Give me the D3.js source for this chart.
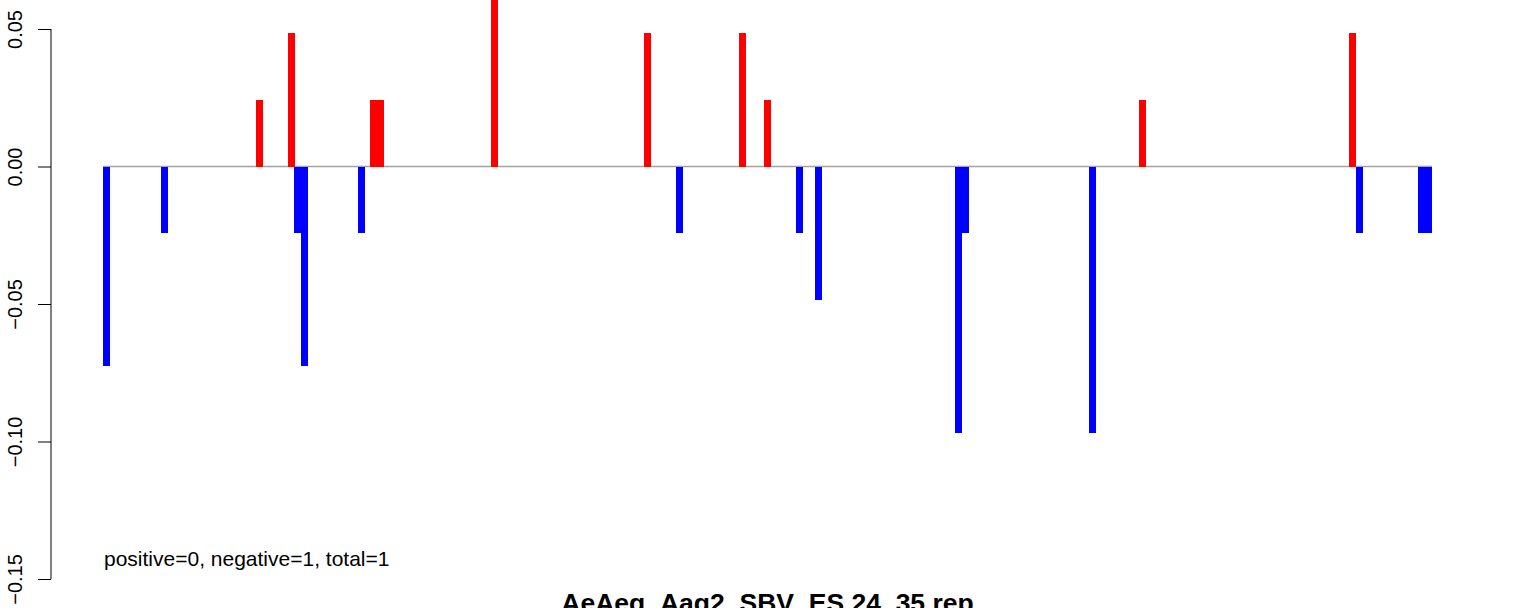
<!DOCTYPE html>
<html>
<head>
<meta charset="utf-8">
<script src="https://cdn.jsdelivr.net/npm/d3@7"></script>
<style>
  html, body { margin: 0; padding: 0; background: #fff; }
  svg { display: block; }
  text { font-family: "Liberation Sans", Arial, Helvetica, sans-serif; }
</style>
</head>
<body>
<script>
// ---- data ----
const positions = [0, 8.3, 21.9, 26.4, 27.3, 28.3, 36.5, 38.2, 39.2, 55.5, 77.3, 81.9, 90.9, 94.5, 99.1, 101.8, 121.8, 122.8, 141.0, 148.1, 178.1, 179.1, 188.0, 189.0];
const values = [-0.0727, -0.0242, 0.0242, 0.0485, -0.0242, -0.0727, -0.0242, 0.0242, 0.0242, 0.0727, 0.0485, -0.0242, 0.0485, 0.0242, -0.0242, -0.0485, -0.097, -0.0242, -0.097, 0.0242, 0.0485, -0.0242, -0.0242, -0.0242];
const yTicks = [0.05, 0.00, -0.05, -0.10, -0.15];
const yTickLabels = ["0.05", "0.00", "\u22120.05", "\u22120.10", "\u22120.15"];
const xDomain = [0, 190];
const yDomain = [-0.15, 0.05];
const titleText = "AeAeg_Aag2_SBV_ES.24_35.rep";
const noteText = "positive=0, negative=1, total=1";

const W = 1536, H = 608;
const svg = d3.select("body").append("svg").attr("width", W).attr("height", H);

const x = d3.scaleLinear().domain(xDomain).range([103, 1432]);
const y = d3.scaleLinear().domain(yDomain).range([579, 29]);

// zero line
svg.append("line")
  .attr("x1", x(xDomain[0])).attr("x2", x(xDomain[1]))
  .attr("y1", y(0)).attr("y2", y(0))
  .attr("stroke", "#a3a3a3").attr("stroke-width", 1.5);

// bars
const data = positions.map((p, i) => ({ p, v: values[i] }));
svg.append("g").selectAll("rect").data(data).enter().append("rect")
  .attr("x", d => x(d.p))
  .attr("width", d => x(d.p + 1) - x(d.p))
  .attr("y", d => Math.min(y(d.v), y(0)))
  .attr("height", d => Math.abs(y(d.v) - y(0)))
  .attr("fill", d => d.v > 0 ? "#ff0000" : "#0000ff")
  .attr("shape-rendering", "crispEdges");

// y axis
const yAxis = d3.axisLeft(y).tickValues(yTicks).tickSize(13).tickPadding(16)
  .tickFormat((d, i) => yTickLabels[i]);
const gy = svg.append("g").attr("transform", "translate(51,0)").call(yAxis);
gy.select(".domain").attr("d", `M0,${y(yDomain[1])}V${y(yDomain[0])}`).attr("stroke", "#000");
gy.selectAll(".tick line").attr("stroke", "#000");
gy.selectAll(".tick text")
  .attr("font-size", 20)
  .attr("fill", "#000")
  .attr("text-anchor", "middle")
  .attr("x", 0).attr("dy", 0)
  .attr("transform", d => `translate(-29,${0}) rotate(-90)`);

// annotation
svg.append("text")
  .attr("x", 104).attr("y", 566)
  .attr("font-size", 21)
  .attr("fill", "#000")
  .text(noteText);

// title (cut off at the bottom edge, as in the reference)
svg.append("text")
  .attr("x", 767.5).attr("y", 612)
  .attr("text-anchor", "middle")
  .attr("font-size", 26.5)
  .attr("font-weight", "bold")
  .attr("fill", "#000")
  .text(titleText);
</script>
</body>
</html>
